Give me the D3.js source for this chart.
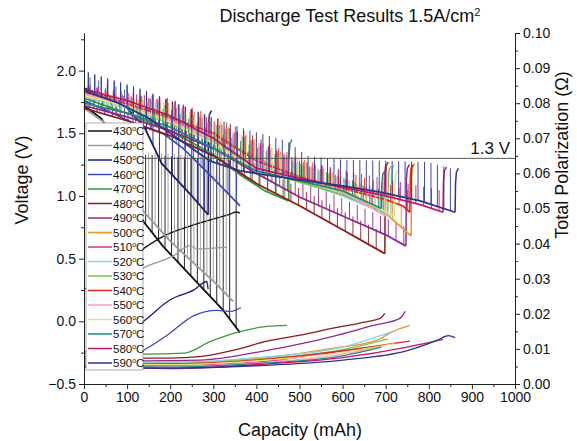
<!DOCTYPE html>
<html>
<head>
<meta charset="utf-8">
<script src="https://cdn.jsdelivr.net/npm/d3@7"></script>
<style>
  body { margin: 0; background: #fff; }
  text { font-family: Arial, "Liberation Sans", sans-serif; fill: #111; }
</style>
</head>
<body>
<div id="chart"></div>
<script>
// temperatures and their legend colours
const temps = [430, 440, 450, 460, 470, 480, 490, 500, 510, 520, 530, 540, 550, 560, 570, 580, 590];
const colors = ["#111111", "#9a9a9a", "#1c1c78", "#3b4cb8", "#3a9a3c", "#8c1c1c", "#8e2a8e", "#f39223",
                "#d4358d", "#86d3ea", "#79c94a", "#e2281e", "#f4a0c8", "#e6e27c", "#238a7c", "#c8146c", "#2a3590"];

// discharge voltage curves, [capacity mAh, voltage V]
const voltCurves = [
  [[0,1.72],[40,1.62],[80,1.38],[110,1.05],[137,0.80],[183,0.60],[262,0.31],[320,0.10],[362,-0.09]],
  [[0,1.70],[50,1.58],[100,1.25],[137,0.88],[200,0.64],[262,0.44],[300,0.32],[346,0.16]],
  [[0,1.86],[60,1.78],[100,1.70],[140,1.55],[180,1.26],[215,1.13],[250,1.00],[288,0.85]],
  [[0,1.76],[60,1.67],[116,1.58],[183,1.50],[230,1.38],[300,1.14],[362,0.92]],
  [[0,1.78],[100,1.66],[200,1.52],[300,1.33],[362,1.17],[420,1.04],[475,0.96]],
  [[0,1.70],[100,1.60],[200,1.48],[300,1.32],[400,1.10],[501,0.92],[600,0.73],[698,0.54]],
  [[0,1.72],[100,1.63],[200,1.52],[300,1.38],[400,1.18],[501,0.99],[600,0.84],[700,0.69],[747,0.60]],
  [[0,1.82],[100,1.72],[200,1.60],[300,1.47],[362,1.37],[450,1.22],[550,1.10],[650,0.96],[700,0.86],[740,0.74],[759,0.68]],
  [[0,1.84],[100,1.74],[200,1.62],[300,1.44],[400,1.24],[500,1.14],[600,1.03],[696,0.86]],
  [[0,1.79],[100,1.70],[200,1.58],[300,1.44],[400,1.25],[500,1.12],[600,1.00],[712,0.84]],
  [[0,1.80],[100,1.71],[200,1.58],[300,1.43],[400,1.22],[500,1.11],[600,1.01],[705,0.86]],
  [[0,1.83],[100,1.73],[200,1.63],[300,1.50],[400,1.28],[500,1.15],[600,1.06],[700,0.97],[740,0.92],[756,0.87]],
  [[0,1.81],[100,1.72],[200,1.60],[300,1.45],[400,1.24],[500,1.13],[600,1.03],[700,0.84]],
  [[0,1.80],[100,1.71],[200,1.59],[300,1.42],[400,1.21],[500,1.12],[600,1.04],[720,0.84]],
  [[0,1.74],[100,1.66],[200,1.55],[300,1.38],[400,1.20],[500,1.12],[600,1.04],[690,0.90]],
  [[0,1.85],[100,1.76],[200,1.64],[300,1.46],[400,1.22],[500,1.14],[600,1.07],[700,1.00],[780,0.93],[833,0.87]],
  [[0,1.84],[80,1.74],[150,1.62],[200,1.50],[250,1.38],[292,1.28],[362,1.20],[494,1.13],[600,1.08],[687,1.03],[780,0.96],[861,0.87]]
];

// voltage reached during each current interruption, [capacity mAh, voltage V]
const spikeTops = [
  [[0,1.36],[362,1.28]],
  [[0,1.38],[346,1.30]],
  [[10,1.98],[137,1.84],[288,1.64]],
  [[10,1.95],[200,1.72],[362,1.50]],
  [[10,1.81],[100,1.72],[200,1.64],[300,1.48],[475,1.12]],
  [[10,1.73],[100,1.66],[200,1.60],[300,1.45],[400,1.25],[500,1.06],[600,0.88],[698,0.70]],
  [[10,1.76],[100,1.69],[200,1.64],[300,1.52],[400,1.32],[500,1.13],[600,0.98],[747,0.75]],
  [[10,1.86],[100,1.78],[200,1.74],[300,1.62],[450,1.36],[600,1.15],[759,0.90]],
  [[10,1.88],[100,1.80],[200,1.76],[300,1.58],[500,1.28],[696,1.02]],
  [[10,1.83],[100,1.76],[200,1.72],[300,1.58],[500,1.26],[712,1.00]],
  [[10,1.84],[100,1.77],[200,1.72],[300,1.57],[500,1.25],[705,1.02]],
  [[10,1.87],[100,1.79],[200,1.77],[300,1.64],[500,1.30],[756,1.04]],
  [[10,1.85],[100,1.78],[200,1.74],[300,1.59],[500,1.27],[700,1.00]],
  [[10,1.84],[100,1.77],[200,1.73],[300,1.56],[500,1.26],[720,1.00]],
  [[10,1.78],[100,1.72],[200,1.69],[300,1.52],[500,1.26],[690,1.05]],
  [[10,1.89],[100,1.82],[200,1.78],[300,1.60],[500,1.28],[833,1.04]],
  [[10,1.99],[137,1.85],[288,1.64],[377,1.53],[470,1.44],[517,1.32],[600,1.29],[800,1.27],[861,1.21]]
];
// interruption spacing and first interruption, mAh
const spikeStep  = [15, 15, 15, 20, 20, 18, 18, 20, 20, 20, 20, 20, 20, 20, 20, 18, 15];
const spikeStart = [8, 15, 10, 14, 6, 12, 4, 16, 9, 13, 7, 11, 5, 17, 3, 14, 10];
// voltage at the end of the recovery hook after the last cut-off (null = none)
const hookTops = [null, null, 1.68, null, 1.45, 1.27, 1.25, 1.26, 1.26, 1.25, 1.24, 1.25, 1.20, 1.20, 1.20, 1.23, 1.22];

// total polarization, [capacity mAh, ohm]
const polCurves = [
  [[0,0.027],[60,0.031],[137,0.0385],[183,0.042],[262,0.0456],[339,0.0484],[353,0.049],[362,0.0487]],
  [[0,0.024],[80,0.029],[137,0.033],[207,0.0365],[246,0.0394],[262,0.0385],[332,0.039]],
  [[0,0.009],[60,0.012],[137,0.0178],[200,0.024],[255,0.0268],[285,0.0292],[288,0.027]],
  [[0,0.006],[80,0.0075],[137,0.0096],[193,0.0139],[255,0.0195],[309,0.021],[341,0.0207],[364,0.0218]],
  [[0,0.0085],[137,0.0085],[232,0.0088],[295,0.0122],[364,0.015],[425,0.0164],[471,0.0167]],
  [[0,0.0078],[137,0.0074],[200,0.0074],[269,0.0078],[346,0.0096],[425,0.0122],[501,0.0139],[578,0.0159],[657,0.0178],[687,0.0187],[698,0.0201]],
  [[0,0.0072],[137,0.0066],[269,0.0068],[425,0.0096],[578,0.0136],[671,0.0167],[733,0.0187],[745,0.0207]],
  [[0,0.0068],[200,0.0062],[400,0.0072],[578,0.0102],[680,0.0125],[717,0.015],[756,0.0167]],
  [[0,0.0058],[200,0.0052],[400,0.0062],[550,0.0085],[696,0.011]],
  [[0,0.0066],[200,0.006],[400,0.0075],[600,0.0105],[717,0.015]],
  [[0,0.0063],[200,0.0058],[400,0.007],[600,0.0098],[705,0.0128]],
  [[0,0.0062],[200,0.0057],[400,0.0068],[600,0.0095],[756,0.0122]],
  [[0,0.0055],[200,0.005],[400,0.006],[600,0.0085],[700,0.011]],
  [[0,0.006],[200,0.0055],[400,0.0066],[600,0.009],[720,0.0115]],
  [[0,0.0052],[200,0.0048],[400,0.0058],[600,0.008],[690,0.0105]],
  [[0,0.005],[200,0.0044],[400,0.0055],[600,0.0075],[750,0.0105],[833,0.0127]],
  [[0,0.0048],[200,0.0045],[400,0.0052],[600,0.0068],[750,0.0095],[820,0.0125],[845,0.0138],[861,0.0132]]
];

// axis ticks
const capTicks = [0, 100, 200, 300, 400, 500, 600, 700, 800, 900, 1000];
const voltTicks = [-0.5, 0.0, 0.5, 1.0, 1.5, 2.0];
const polTicks = [0, 0.01, 0.02, 0.03, 0.04, 0.05, 0.06, 0.07, 0.08, 0.09, 0.10];
const cutoffVolt = 1.3;

const width = 577, height = 441;
const svg = d3.select("#chart").append("svg")
    .attr("width", width)
    .attr("height", height);

const x = d3.scaleLinear().domain([0, 1000]).range([84, 515]);
const yV = d3.scaleLinear().domain([-0.5, 2.3]).range([384, 33]);
const yP = d3.scaleLinear().domain([0, 0.1]).range([384, 33]);

const voltLine = d3.line().x(d => x(d[0])).y(d => yV(d[1]));
const polLine = d3.line().x(d => x(d[0])).y(d => yP(d[1])).curve(d3.curveMonotoneX);

// curves, drawn in legend order so the hotter runs sit on top
temps.forEach((t, i) => {
    let pts = voltCurves[i];
    let vAt = d3.scaleLinear().domain(pts.map(d => d[0])).range(pts.map(d => d[1])).clamp(true);
    let tops = spikeTops[i];
    let topAt = d3.scaleLinear().domain(tops.map(d => d[0])).range(tops.map(d => d[1])).clamp(true);
    let endCap = pts[pts.length - 1][0];
    let g = svg.append("g").attr("stroke", colors[i]).attr("fill", "none");

    //current interruptions: thin vertical lines from the curve up
    for (let c = spikeStart[i]; c < endCap - 4; c += spikeStep[i]) {
        if (topAt(c) <= vAt(c)) continue;
        g.append("line")
            .attr("x1", x(c)).attr("x2", x(c))
            .attr("y1", yV(vAt(c))).attr("y2", yV(topAt(c)))
            .attr("stroke-width", 0.9);
    }

    g.append("path")
        .attr("d", voltLine(pts))
        .attr("stroke-width", 1.8);

    //recovery hook after the last point
    if (hookTops[i] !== null) {
        let vEnd = pts[pts.length - 1][1];
        let h = hookTops[i];
        g.append("path")
            .attr("d", voltLine([[endCap, vEnd], [endCap + 1, h - 0.12], [endCap + 3, h - 0.03], [endCap + 8, h]]))
            .attr("stroke-width", 1.5);
    }

    g.append("path")
        .attr("d", polLine(polCurves[i]))
        .attr("stroke-width", 1.3);
});

// 1.3 V cut-off line
svg.append("line")
    .attr("x1", 143).attr("x2", x(1000))
    .attr("y1", yV(cutoffVolt)).attr("y2", yV(cutoffVolt))
    .attr("stroke", "#555").attr("stroke-width", 1);
svg.append("text")
    .attr("x", 510).attr("y", yV(cutoffVolt) - 4)
    .attr("text-anchor", "end")
    .style("font-size", "17px")
    .text("1.3 V");

// legend
let legend = svg.append("g");
legend.append("rect")
    .attr("x", 86).attr("y", 123)
    .attr("width", 57).attr("height", 247)
    .attr("fill", "#fff").attr("stroke", "#999").attr("stroke-width", 0.8);
temps.forEach((t, i) => {
    let ly = 131 + i * 14.5;
    legend.append("line")
        .attr("x1", 88).attr("x2", 112)
        .attr("y1", ly).attr("y2", ly)
        .attr("stroke", colors[i]).attr("stroke-width", 1.5);
    let txt = legend.append("text")
        .attr("x", 113).attr("y", ly + 4)
        .style("font-size", "11.5px")
        .text(t);
    txt.append("tspan").attr("dy", -4).style("font-size", "7px").text("o");
    txt.append("tspan").attr("dy", 4).text("C");
});

// axes
const fmt = d3.format(".1f");
svg.append("g")
    .attr("transform", "translate(84,0)")
    .call(d3.axisLeft(yV).tickValues(voltTicks).tickFormat(fmt).tickSize(5).tickSizeOuter(0))
    .call(a => a.selectAll("text").style("font-size", "14px"));
svg.append("g")
    .attr("transform", "translate(84,0)")
    .call(d3.axisLeft(yV).tickValues(d3.range(-0.25, 2.3, 0.5)).tickFormat("").tickSize(3).tickSizeOuter(0));

svg.append("g")
    .attr("transform", "translate(515,0)")
    .call(d3.axisRight(yP).tickValues(polTicks).tickFormat(d3.format(".2f")).tickSize(5).tickSizeOuter(0))
    .call(a => a.selectAll("text").style("font-size", "14px"));
svg.append("g")
    .attr("transform", "translate(515,0)")
    .call(d3.axisRight(yP).tickValues(d3.range(0.005, 0.1, 0.01)).tickFormat("").tickSize(3).tickSizeOuter(0));

svg.append("g")
    .attr("transform", "translate(0,384)")
    .call(d3.axisBottom(x).tickValues(capTicks).tickFormat(d3.format("d")).tickSize(5).tickSizeOuter(0))
    .call(a => a.selectAll("text").style("font-size", "14px"));
svg.append("g")
    .attr("transform", "translate(0,384)")
    .call(d3.axisBottom(x).tickValues(d3.range(50, 1000, 100)).tickFormat("").tickSize(3).tickSizeOuter(0));

svg.selectAll(".domain").attr("stroke", "#222");
svg.selectAll(".tick line").attr("stroke", "#222");

// titles
let title = svg.append("text")
    .attr("x", 350).attr("y", 22)
    .attr("text-anchor", "middle")
    .style("font-size", "18px")
    .text("Discharge Test Results 1.5A/cm");
title.append("tspan").attr("dy", -6).style("font-size", "11px").text("2");

svg.append("text")
    .attr("x", 300).attr("y", 436)
    .attr("text-anchor", "middle")
    .style("font-size", "18px")
    .text("Capacity (mAh)");

svg.append("text")
    .attr("transform", "translate(28,180) rotate(-90)")
    .attr("text-anchor", "middle")
    .style("font-size", "18px")
    .text("Voltage (V)");

svg.append("text")
    .attr("transform", "translate(568,155) rotate(-90)")
    .attr("text-anchor", "middle")
    .style("font-size", "18px")
    .text("Total Polarization (Ω)");
</script>
</body>
</html>
